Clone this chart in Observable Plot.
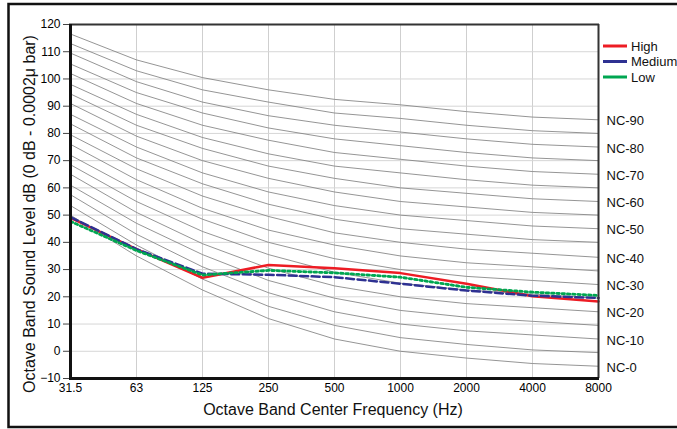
<!DOCTYPE html>
<html><head><meta charset="utf-8">
<script src="https://cdn.jsdelivr.net/npm/d3@7"></script>
<script src="https://cdn.jsdelivr.net/npm/@observablehq/plot@0.6"></script>
<style>body{margin:0;background:#fff}svg{display:block}</style>
</head><body><div id="chart"></div>
<script>
const bands = ["31.5","63","125","250","500","1000","2000","4000","8000"];
const yTicks = [-10,0,10,20,30,40,50,60,70,80,90,100,110,120];
const ncNames = ["NC-0","NC-5","NC-10","NC-15","NC-20","NC-25","NC-30","NC-35","NC-40","NC-45","NC-50","NC-55","NC-60","NC-65","NC-70","NC-75","NC-80","NC-85","NC-90"];
const ncCurves = [
  [50, 35, 22.5, 12, 4.5, 0, -2.5, -4.5, -5.5],
  [53.5, 39, 26.5, 16.5, 9.5, 5, 2.5, 0.5, -0.5],
  [57.5, 43, 31, 21.5, 14.5, 10, 7.5, 6, 4.5],
  [61, 47, 35.5, 26, 19.5, 15, 12.5, 11, 9.5],
  [65, 51, 39.5, 30.5, 24, 20, 17.5, 16, 14.5],
  [68.5, 55, 44, 35.5, 29, 25, 22.5, 21, 19.5],
  [72, 59, 48.5, 40, 34, 30, 27.5, 26, 24.5],
  [76, 63, 52.5, 44.5, 39, 35, 32.5, 31, 29.5],
  [79.5, 67, 57, 49.5, 43.5, 40, 37.5, 36, 34.5],
  [83.5, 71, 61.5, 54, 48.5, 45, 43, 41, 40],
  [87, 75, 65.5, 58.5, 53.5, 50, 48, 46, 45],
  [91, 79, 70, 63.5, 58.5, 55, 53, 51, 50],
  [94.5, 83, 74.5, 68, 63.5, 60, 58, 56, 55],
  [98, 87, 78.5, 72.5, 68, 65.5, 63, 61, 60],
  [102, 91, 83, 77.5, 73, 70.5, 68, 66, 65],
  [105.5, 95, 87.5, 82, 78, 75.5, 73, 71, 70],
  [109.5, 99, 91.5, 86.5, 83, 80.5, 78, 76, 75],
  [113, 103, 96, 91.5, 87.5, 85.5, 83, 81, 80],
  [116.5, 107, 100.5, 96, 92.5, 90.5, 88, 86, 85]
];
const ncLabelNames = ["NC-0","NC-10","NC-20","NC-30","NC-40","NC-50","NC-60","NC-70","NC-80","NC-90"];
const high   = [49, 37.5, 27, 31.7, 30.5, 28.7, 24.8, 20.2, 18.3];
const medium = [49.3, 37.5, 28.5, 28.1, 27.2, 24.8, 22.3, 20.4, 19.6];
const low    = [47.7, 37, 28, 29.7, 28.8, 27.2, 23.5, 21.7, 20.5];
const seriesNames = ["High","Medium","Low"];
const seriesColors = ["#ed1c24","#2e3192","#00a651"];

const ncRows = ncCurves.flatMap((c, k) => bands.map((b, i) => ({band: b, level: c[i], nc: ncNames[k]})));
const ncLabelRows = ncCurves
  .map((c, k) => ({band: "8000", level: c[c.length - 1], label: ncNames[k]}))
  .filter(d => ncLabelNames.includes(d.label));
const rows = vals => bands.map((b, i) => ({band: b, level: vals[i]}));

const font = "'Liberation Sans', Arial, sans-serif";
const plot = Plot.plot({
  width: 677, height: 429,
  marginLeft: 69, marginRight: 78, marginTop: 24, marginBottom: 51,
  style: {fontFamily: font, fontSize: "12px", color: "#000", background: "#fff"},
  x: {type: "point", domain: bands, padding: 0},
  y: {domain: [-10, 120]},
  marks: [
    Plot.gridX(bands, {stroke: "#cfcfcf", strokeOpacity: 1, strokeWidth: 1}),
    Plot.gridY(yTicks, {stroke: "#d6d6d6", strokeOpacity: 1, strokeWidth: 1}),
    Plot.line(ncRows, {x: "band", y: "level", z: "nc", stroke: "#7a7a7a", strokeWidth: 0.8}),
    Plot.text(ncLabelRows, {x: "band", y: "level", text: "label", textAnchor: "start", dx: 8, dy: 1.5, fontSize: 13, fill: "#111"}),
    Plot.line(rows(high), {x: "band", y: "level", stroke: seriesColors[0], strokeWidth: 2.5}),
    Plot.line(rows(medium), {x: "band", y: "level", stroke: seriesColors[1], strokeWidth: 2.5, strokeDasharray: "8,3.5"}),
    Plot.line(rows(low), {x: "band", y: "level", stroke: seriesColors[2], strokeWidth: 2.8, strokeDasharray: "2.4,2.9"}),
    Plot.ruleY([120], {stroke: "#333", strokeWidth: 2}),
    Plot.ruleX(["8000"], {stroke: "#333", strokeWidth: 2}),
    Plot.ruleX(["31.5"], {stroke: "#111", strokeWidth: 3}),
    Plot.ruleY([-10], {stroke: "#111", strokeWidth: 3}),
    Plot.axisY(yTicks, {tickSize: 6, tickPadding: 3, fontSize: 12, label: null, stroke: "#444"}),
    Plot.axisX(bands, {tickSize: 0, tickPadding: 5, fontSize: 12, label: null})
  ]
});

const svg = d3.select(plot);
svg.append("rect").attr("x", 8.5).attr("y", 4).attr("width", 700).attr("height", 423)
  .attr("fill", "none").attr("stroke", "#111").attr("stroke-width", 2.5);
svg.append("text").attr("x", 333).attr("y", 415).attr("text-anchor", "middle")
  .attr("font-family", font).attr("font-size", 16).attr("fill", "#111")
  .text("Octave Band Center Frequency (Hz)");
svg.append("text").attr("transform", "translate(35,214) rotate(-90)").attr("text-anchor", "middle")
  .attr("font-family", font).attr("font-size", 16).attr("fill", "#111")
  .text("Octave Band Sound Level dB (0 dB - 0.0002μ bar)");
const lg = svg.append("g");
seriesNames.forEach((name, i) => {
  const y = 46 + i * 15.5;
  lg.append("line").attr("x1", 603).attr("x2", 627).attr("y1", y).attr("y2", y)
    .attr("stroke", seriesColors[i]).attr("stroke-width", 3);
  lg.append("text").attr("x", 631).attr("y", y).attr("dy", "0.35em").attr("text-anchor", "start")
    .attr("font-family", font).attr("font-size", 13).attr("fill", "#111").text(name);
});
document.getElementById("chart").appendChild(plot);
</script>
</body></html>
